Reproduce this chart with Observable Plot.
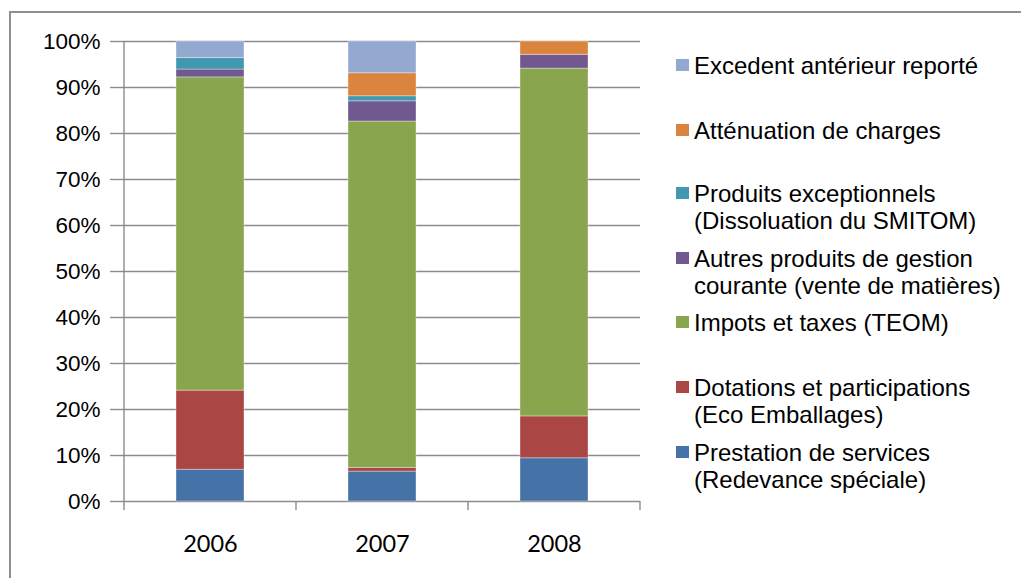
<!DOCTYPE html>
<html><head><meta charset="utf-8">
<script src="https://cdn.jsdelivr.net/npm/d3@7"></script>
<script src="https://cdn.jsdelivr.net/npm/@observablehq/plot@0.6"></script>
<style>
body{margin:0;background:#fff;}
#wrap{position:relative;width:1021px;height:578px;overflow:hidden;background:#fff;}
#border{position:absolute;left:9px;top:11px;width:1030px;height:600px;border-left:2px solid #8f8f8f;border-top:2px solid #8f8f8f;}
#chart{position:absolute;left:0;top:0;}
#legend{position:absolute;left:0;top:0;width:1021px;height:578px;font-family:"Liberation Sans",Arial,sans-serif;font-size:24px;color:#000;}
.item{position:absolute;left:676px;}
.sw{position:absolute;left:0;width:13px;height:12px;}
.lab{position:absolute;left:18px;white-space:pre;line-height:27px;}
</style></head>
<body>
<div id="wrap"><div id="border"></div><div id="chart"></div><div id="legend"></div></div>
<script>
const years = ["2006", "2007", "2008"];
const seriesNames = [
  "Prestation de services\n(Redevance spéciale)",
  "Dotations et participations\n(Eco Emballages)",
  "Impots et taxes (TEOM)",
  "Autres produits de gestion\ncourante (vente de matières)",
  "Produits exceptionnels\n(Dissoluation du SMITOM)",
  "Atténuation de charges",
  "Excedent antérieur reporté"
];
const seriesColors = ["#4572A7", "#AA4643", "#89A54E", "#71588F", "#4198AF", "#DB843D", "#93A9CF"];
const prestation = [6.9, 6.5, 9.4];
const dotations = [17.2, 0.8, 9.1];
const impots = [68.1, 75.3, 75.6];
const autres = [1.7, 4.4, 3.0];
const produits = [2.5, 1.1, 0];
const attenuation = [0, 5.0, 2.9];
const excedent = [3.6, 6.9, 0];
const yTicks = [0, 10, 20, 30, 40, 50, 60, 70, 80, 90, 100];

const seriesValues = [prestation, dotations, impots, autres, produits, attenuation, excedent];
const rows = [];
seriesNames.forEach((s, i) => years.forEach((yr, j) => {
  if (seriesValues[i][j] > 0) rows.push({year: yr, series: s, value: seriesValues[i][j]});
}));

const W = 1021, H = 578;
const chart = Plot.plot({
  width: W, height: H,
  marginLeft: 124, marginRight: 381, marginTop: 41, marginBottom: 77,
  style: {fontFamily: "'Liberation Sans', Arial, sans-serif", fontSize: "22.5px", color: "#000", background: "transparent"},
  x: {domain: years, paddingInner: 0.605, paddingOuter: 0.3025, label: null},
  y: {domain: [0, 100], label: null},
  color: {domain: seriesNames, range: seriesColors},
  marks: [
    Plot.ruleY(yTicks, {stroke: "#8c8c8c", strokeWidth: 1.4}),
    Plot.barY(rows, Plot.stackY({x: "year", y: "value", fill: "series", stroke: "#fff", strokeOpacity: 0.35, strokeWidth: 1, inset: 0})),
    Plot.axisY({ticks: yTicks, tickFormat: d => d + "%", tickSize: 14, tickPadding: 10, stroke: "#8c8c8c", strokeWidth: 1.4, fontSize: 22.5, label: null}),
    Plot.axisX({tickSize: 0, tickPadding: 34, fontFamily: "Lato, sans-serif", fontSize: 23.5, label: null})
  ]
});
document.getElementById("chart").appendChild(chart);

// axis line and category-boundary ticks from Plot's scales
const sx = chart.scale("x"), sy = chart.scale("y");
const svg = d3.select(chart);
const y0 = sy.apply(0), y1 = sy.apply(100);
const left = sx.apply(years[0]) - (sx.step - sx.bandwidth) / 2;
const g = svg.append("g").attr("stroke", "#8c8c8c").attr("stroke-width", 1.4);
g.append("line").attr("x1", left).attr("x2", left).attr("y1", y1).attr("y2", y0 + 9);
years.forEach(yr => {
  const xr = sx.apply(yr) + sx.bandwidth + (sx.step - sx.bandwidth) / 2;
  g.append("line").attr("x1", xr).attr("x2", xr).attr("y1", y0).attr("y2", y0 + 9);
});

// legend
const legendTops = [65, 130, 193, 258, 322, 387, 452];
const legend = document.getElementById("legend");
const legendOrder = [6, 5, 4, 3, 2, 1, 0];
legendOrder.forEach((si, k) => {
  const item = document.createElement("div");
  item.className = "item";
  item.style.top = (legendTops[k] - 13.5) + "px";
  const sw = document.createElement("div");
  sw.className = "sw";
  sw.style.background = seriesColors[si];
  sw.style.top = "7px";
  const lab = document.createElement("div");
  lab.className = "lab";
  lab.textContent = seriesNames[si];
  item.appendChild(sw); item.appendChild(lab);
  legend.appendChild(item);
});
</script>
</body></html>
